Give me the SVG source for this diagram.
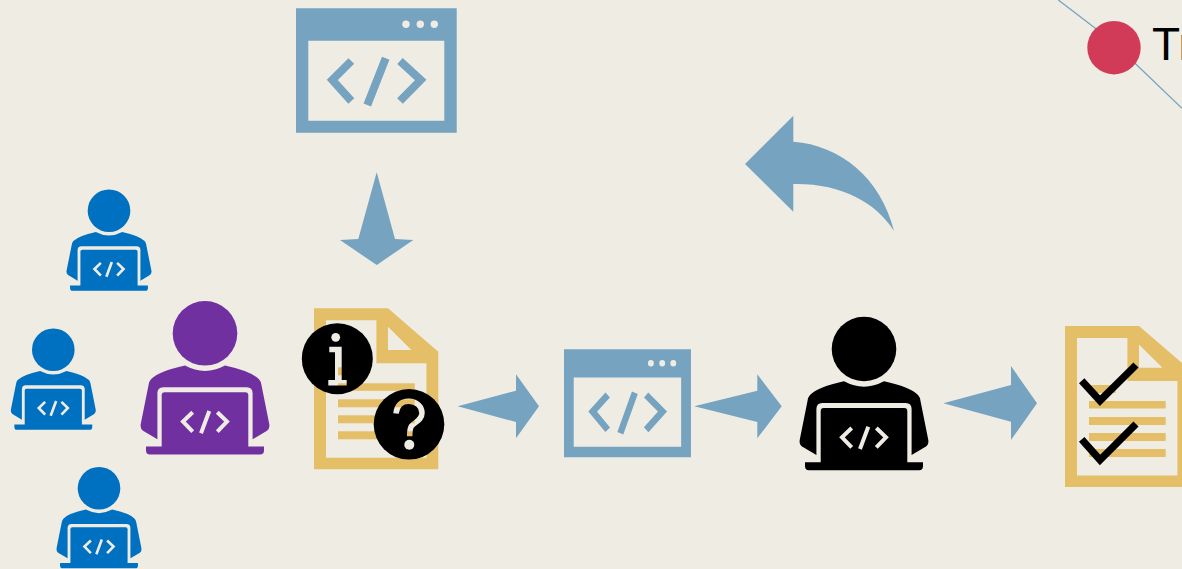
<svg xmlns="http://www.w3.org/2000/svg" width="1182" height="569" viewBox="0 0 1182 569">
<style>
.bg{fill:#EFECE4}
.arrow{fill:#76A3BF}
.win{fill:#76A3BF}
.code{fill:none;stroke:#EFECE4;stroke-width:4}
.wcode{fill:none;stroke:#76A3BF;stroke-width:8}
.doc{fill:#E4BF68}
.check{fill:none;stroke:#000;stroke-width:7.3}
</style>
<defs>
<g id="person">
<circle r="32.3" fill="currentColor"/>
<path fill="currentColor" d="M-20,32.3Q0,43 20,32.3Q46,38 54,46Q56,48 56.500,52L64.300,91Q65,95 62,97.500L47.600,106H-47.600L-62,97.500Q-65,95 -64.300,91L-56.500,52Q-56,48 -54,46Q-46,38 -20,32.3Z"/>
<path class="bg" d="M-47.600,113.300V60Q-47.600,54 -41.600,54H41.600Q47.600,54 47.600,60V113.300Z"/>
<path fill="currentColor" d="M-43.300,115V62Q-43.300,59 -40.300,59H40.300Q43.300,59 43.300,62V115Z"/>
<path fill="currentColor" d="M-59,113.300H59V117Q59,121.300 55,121.300H-55Q-59,121.300 -59,117Z"/>
<path class="code" d="M-12.300,79L-22,88.300L-12.300,98.300M4.300,77.700L-4,100M12.300,79L22,88.300L12.300,98.300"/>
</g>
<g id="window">
<path class="win" fill-rule="evenodd" d="M0,0H160.700V124.400H0ZM12.300,32.400V112.400H148.300V32.400Z"/>
<circle class="bg" cx="110" cy="16" r="3.700"/>
<circle class="bg" cx="124.300" cy="16" r="3.700"/>
<circle class="bg" cx="138.300" cy="16" r="3.700"/>
<path class="wcode" d="M55.300,52.700L36.300,71.700L55.300,92.700M89.700,50L71.300,96.700M104,52.700L124.700,71.700L104,92.700"/>
</g>
<g id="document">
<path class="doc" fill-rule="evenodd" d="M0,0H74L124.300,43.400V161H0ZM12,12V149.400H112.400V55H62.400V12ZM74,18.400V41.700H97.400Z"/>
<rect class="doc" x="24" y="59" width="26.700" height="8"/>
<rect class="doc" x="24" y="75" width="76.700" height="7.500"/>
<rect class="doc" x="24" y="91" width="76.700" height="8"/>
<rect class="doc" x="24" y="107" width="76.700" height="8"/>
<rect class="doc" x="24" y="123" width="76.700" height="8"/>
</g>
<mask id="infoHole" maskUnits="userSpaceOnUse" x="295" y="315" width="85" height="85">
<rect x="295" y="315" width="85" height="85" fill="#fff"/>
<circle cx="335.700" cy="337.300" r="4.400" fill="#000"/>
<path fill="#000" d="M329.300,346.700H341.700V380H346.700V385.500H328.300V380H335V352.300H329.300Z"/>
</mask>
<mask id="questionHole" maskUnits="userSpaceOnUse" x="366" y="381" width="85" height="85">
<rect x="366" y="381" width="85" height="85" fill="#fff"/>
<path fill="none" stroke="#000" stroke-width="5.500" d="M396,413.500C397,405 402,401.300 408.700,401.300C416,401.300 422,406 422,413C422,420 415,422 411.500,426C410,428 409.700,431 409.700,436.300"/>
<circle cx="409.300" cy="444.700" r="5" fill="#000"/>
</mask>
</defs>
<rect class="bg" width="1182" height="569"/>
<g id="connectors">
<path fill="none" stroke="#76A3BF" stroke-width="1.300" d="M1058.300,0L1095,28L1135,63.300L1182,108.300"/>
<path id="arrow-down" class="arrow" d="M376.700,172.300L395,239L413.300,240L376.700,265L340,240L358.300,239Z"/>
<path id="arrow-doc-code" class="arrow" d="M457.700,406.300L516,390.700V374.300L539,406.300L516,438.300V422Z"/>
<path id="arrow-code-dev" class="arrow" d="M694.300,406.300L757.300,390.700V374.300L781.700,406.300L757.300,438.300V422Z"/>
<path id="arrow-dev-doc" class="arrow" d="M943.300,403.300L1011,385V366L1037,403.300L1011,440V421.700Z"/>
<path id="arrow-back" class="arrow" d="M745,164L793.300,115.700V141.700C840,145 881,178 894,231C876,202 840,183 793.300,184V211.700Z"/>
</g>
<g id="code-window-top"><use href="#window" transform="translate(296,8.300)"/></g>
<g id="dev-top" color="#0070C0"><use href="#person" transform="translate(109,210.700) scale(.66)"/></g>
<g id="dev-left" color="#0070C0"><use href="#person" transform="translate(53.300,349.700) scale(.66)"/></g>
<g id="dev-bottom" color="#0070C0"><use href="#person" transform="translate(99,488.300) scale(.66)"/></g>
<g id="dev-lead" color="#7030A0"><use href="#person" transform="translate(205,333.300)"/></g>
<g id="requirements-doc">
<use href="#document" transform="translate(314,308.300)"/>
<circle cx="337.300" cy="358.700" r="35.500" fill="#000" mask="url(#infoHole)"/>
<circle cx="409" cy="424.300" r="35.300" fill="#000" mask="url(#questionHole)"/>
</g>
<g id="code-window"><use href="#window" transform="translate(564,349.300) scale(.79,.868)"/></g>
<g id="reviewer" color="#000"><use href="#person" transform="translate(864,349)"/></g>
<g id="checked-doc">
<use href="#document" transform="translate(1065,326)"/>
<path class="check" d="M1081.700,380.700L1100,400.700L1136,365"/>
<path class="check" d="M1081.700,439.300L1100,460L1136,424"/>
</g>
<g id="legend">
<circle cx="1114" cy="47.700" r="26.700" fill="#D23B58"/>
<text x="1152" y="60" font-family="'Liberation Sans',Arial,sans-serif" font-size="46" fill="#000">Tr</text>
</g>
</svg>
